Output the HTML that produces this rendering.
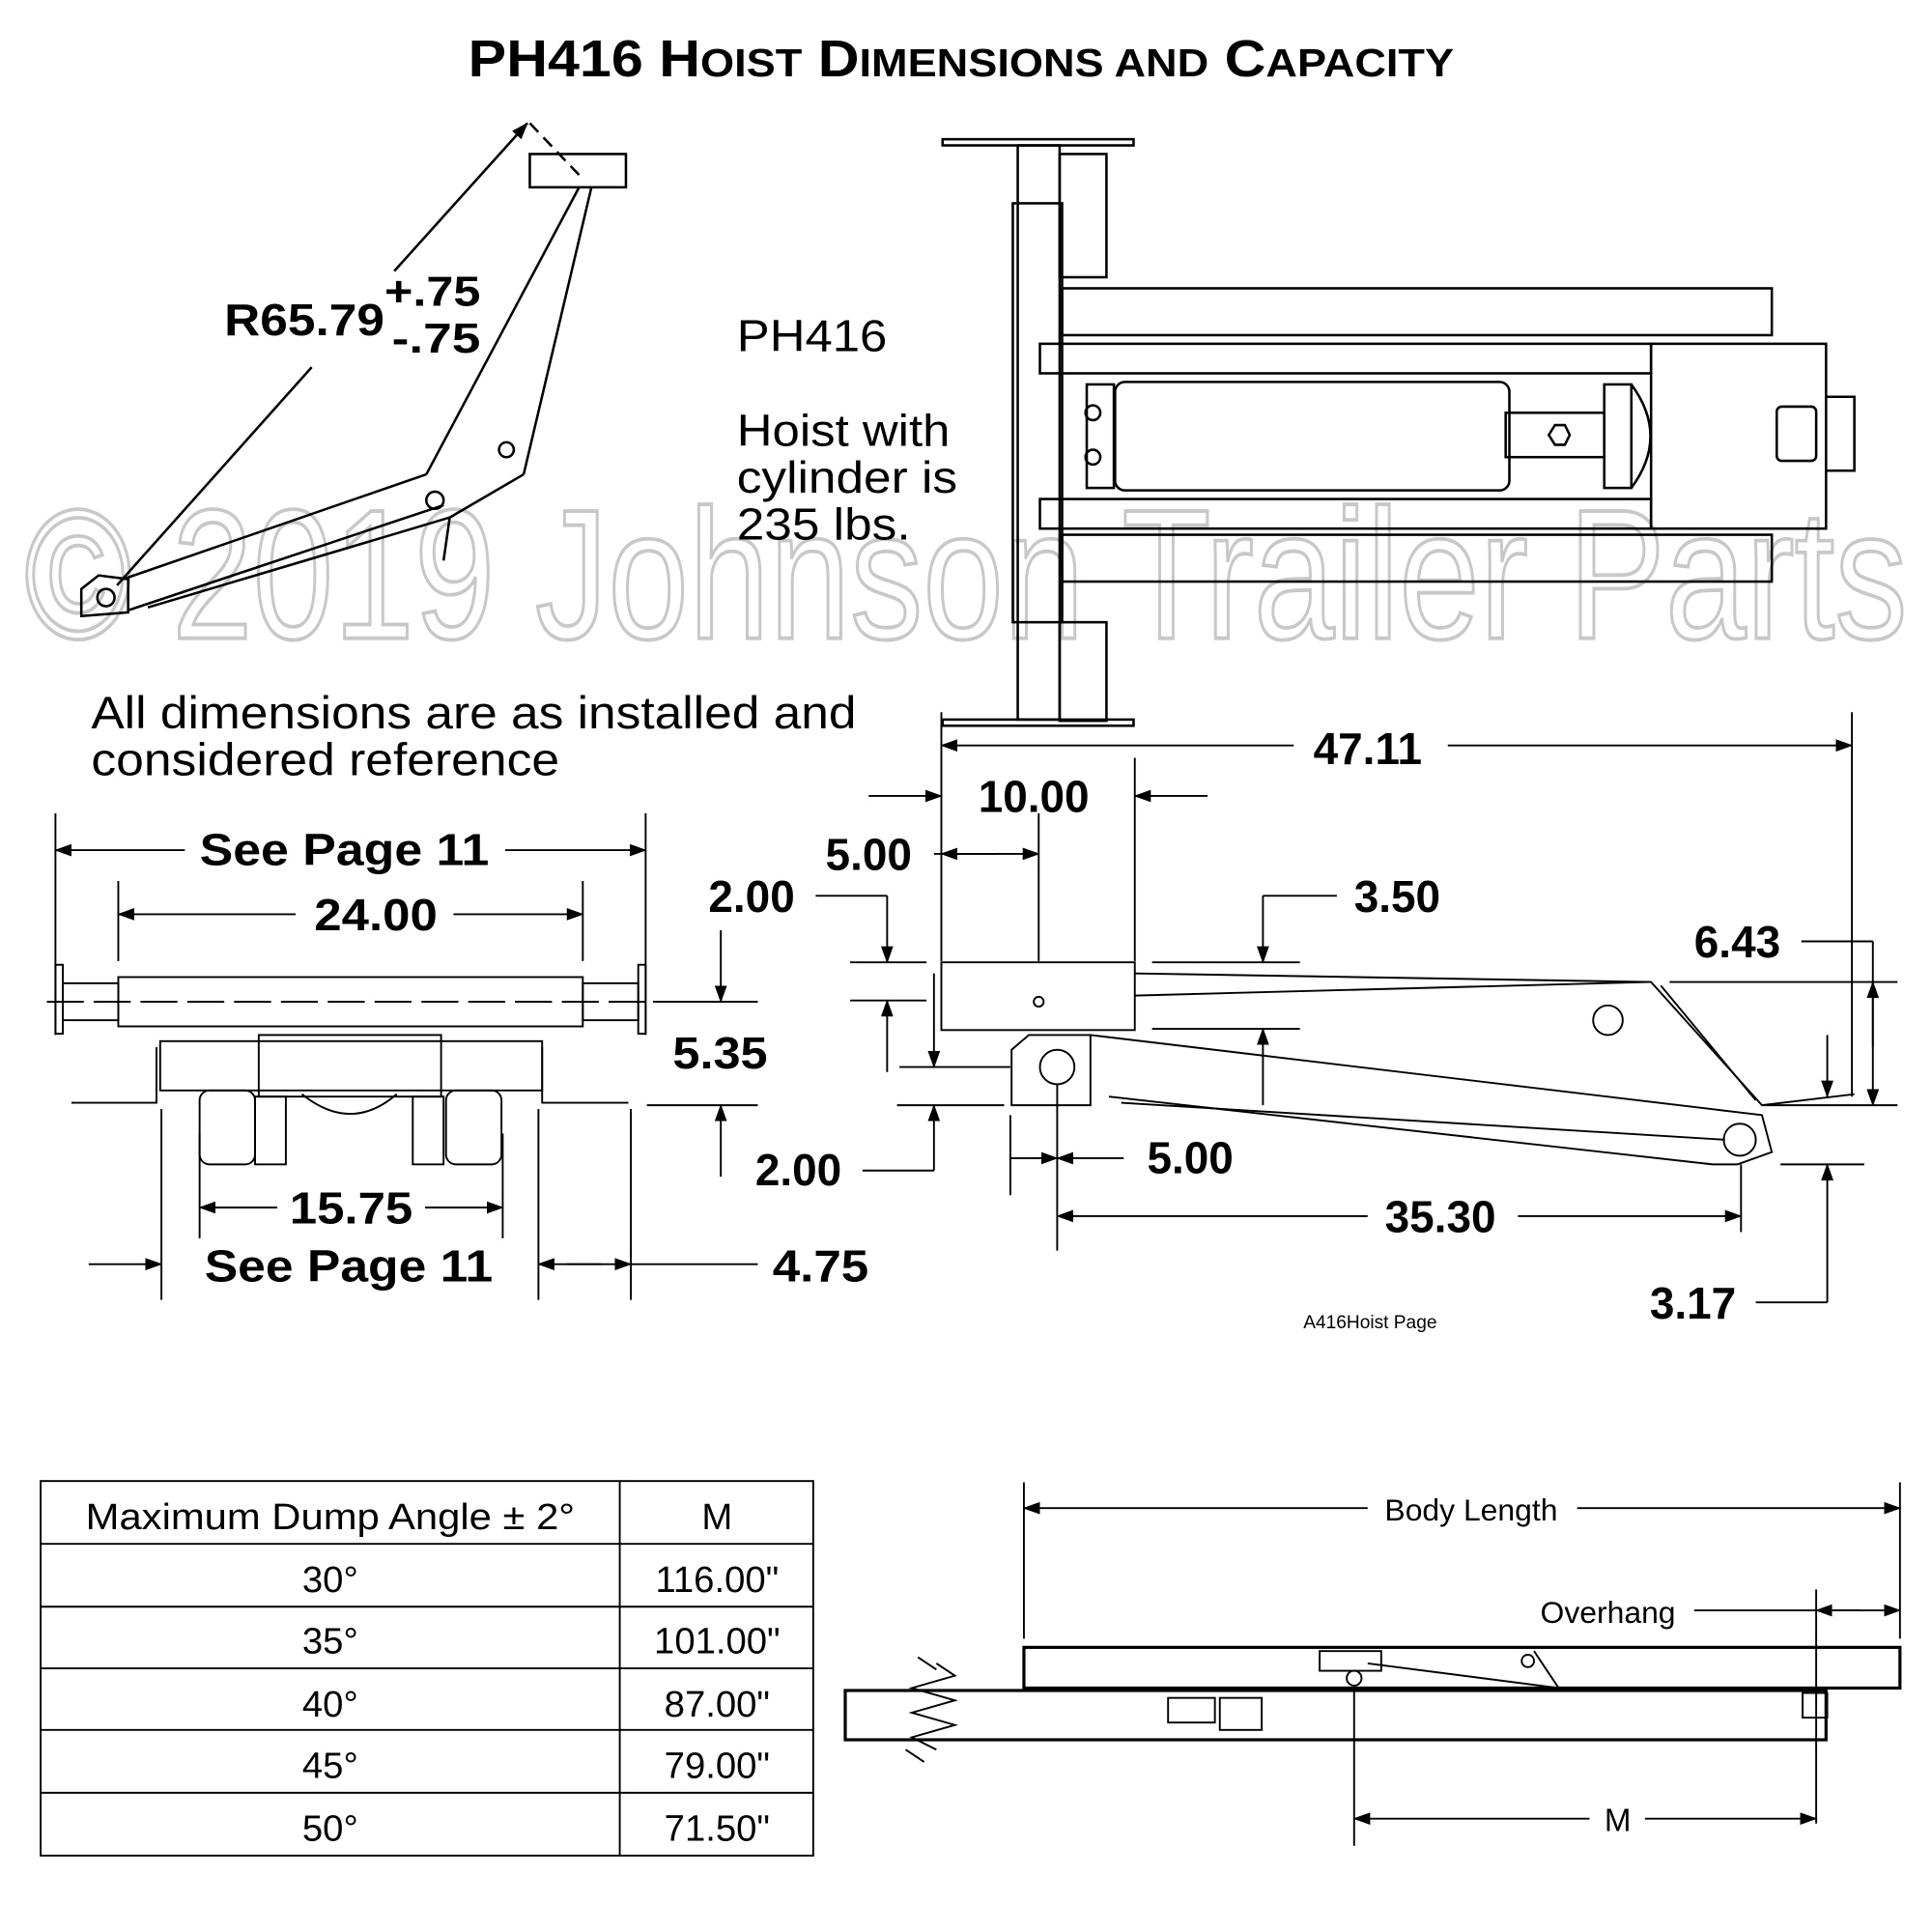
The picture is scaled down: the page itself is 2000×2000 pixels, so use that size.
<!DOCTYPE html>
<html><head><style>html,body{margin:0;padding:0;background:#fff}svg{display:block}</style></head>
<body>
<svg width="2000" height="2000" viewBox="0 0 1568 1568" xmlns="http://www.w3.org/2000/svg" font-family="Liberation Sans, DejaVu Sans, sans-serif">
<defs>
<marker id="a" markerWidth="14" markerHeight="10" refX="13" refY="5" orient="auto" markerUnits="userSpaceOnUse"><path d="M0,0 L14,5 L0,10 z" fill="#000"/></marker>
</defs>
<rect width="1568" height="1568" fill="#fff"/>
<text x="20" y="518" font-size="150" fill="none" stroke="#c8c8c8" stroke-width="3" textLength="1528" lengthAdjust="spacingAndGlyphs">© 2019 Johnson Trailer Parts</text>
<text x="380" y="62" font-weight="bold" font-size="42" textLength="800" lengthAdjust="spacingAndGlyphs">PH416 H<tspan font-size="32">OIST</tspan> D<tspan font-size="32">IMENSIONS AND</tspan> C<tspan font-size="32">APACITY</tspan></text>

<g stroke="#000" stroke-width="2" fill="none">
<rect x="430" y="125" width="78" height="27"/>
<line x1="480" y1="152" x2="425" y2="385"/>
<line x1="470" y1="152" x2="346" y2="385"/>
<polyline points="425,385 365,420 360,455"/>
<line x1="346" y1="385" x2="100" y2="470"/>
<line x1="360" y1="410" x2="105" y2="495"/>
<line x1="365" y1="420" x2="120" y2="493"/>
<polygon points="66,478 80,467 104,470 104,497 66,500"/>
<circle cx="86" cy="485" r="7"/>
<circle cx="353" cy="406" r="7"/>
<circle cx="411" cy="365" r="6"/>
<line x1="320" y1="220" x2="428" y2="100" marker-end="url(#a)"/>
<line x1="253" y1="298" x2="95" y2="475"/>
<path d="M430,100 L470,142" stroke-dasharray="10,6"/>
</g>
<text x="182" y="272" font-size="36" font-weight="bold" textLength="130" lengthAdjust="spacingAndGlyphs">R65.79</text>
<text x="312" y="248" font-size="34" font-weight="bold" textLength="78" lengthAdjust="spacingAndGlyphs">+.75</text>
<text x="318" y="286" font-size="34" font-weight="bold" textLength="72" lengthAdjust="spacingAndGlyphs">-.75</text>

<text x="598" y="285" font-size="36" textLength="122" lengthAdjust="spacingAndGlyphs">PH416</text>
<text x="598" y="362" font-size="36" textLength="173" lengthAdjust="spacingAndGlyphs">Hoist with</text>
<text x="598" y="400" font-size="36" textLength="179" lengthAdjust="spacingAndGlyphs">cylinder is</text>
<text x="598" y="438" font-size="36" textLength="141" lengthAdjust="spacingAndGlyphs">235 lbs.</text>

<g stroke="#000" stroke-width="2" fill="none">
<rect x="765" y="113" width="155" height="5"/>
<rect x="765" y="584" width="155" height="5"/>
<rect x="826" y="118" width="34" height="466"/>
<rect x="822" y="165" width="40" height="340"/>
<rect x="860" y="125" width="38" height="100"/>
<rect x="860" y="505" width="38" height="80"/>
<rect x="862" y="234" width="576" height="38"/>
<rect x="844" y="279" width="496" height="24"/>
<rect x="844" y="405" width="496" height="24"/>
<rect x="862" y="434" width="576" height="38"/>
<rect x="1340" y="279" width="142" height="150"/>
<path d="M1482,322 H1505 V382 H1482"/>
<rect x="1442" y="330" width="32" height="44" rx="4"/>
<rect x="905" y="310" width="320" height="88" rx="8"/>
<rect x="1222" y="335" width="80" height="36"/>
<rect x="1302" y="312" width="22" height="84"/>
<rect x="882" y="312" width="22" height="84"/>
<polygon points="1257,353 1262,345 1270,345 1274,353 1270,361 1262,361"/>
<circle cx="887" cy="335" r="6"/><circle cx="887" cy="371" r="6"/>
<path d="M1324,312 Q1355,354 1324,396"/>
</g>

<text x="74" y="591" font-size="37" textLength="621" lengthAdjust="spacingAndGlyphs">All dimensions are as installed and</text>
<text x="74" y="629" font-size="37" textLength="380" lengthAdjust="spacingAndGlyphs">considered reference</text>

<g stroke="#000" stroke-width="1.5" fill="none">
<line x1="45" y1="660" x2="45" y2="840"/><line x1="524" y1="660" x2="524" y2="840"/>
<line x1="150" y1="690" x2="45" y2="690" marker-end="url(#a)"/><line x1="410" y1="690" x2="524" y2="690" marker-end="url(#a)"/>
<line x1="96" y1="715" x2="96" y2="780"/><line x1="473" y1="715" x2="473" y2="780"/>
<line x1="240" y1="742" x2="96" y2="742" marker-end="url(#a)"/><line x1="368" y1="742" x2="473" y2="742" marker-end="url(#a)"/>
<line x1="530" y1="813" x2="615" y2="813"/><line x1="525" y1="897" x2="615" y2="897"/>
<line x1="585" y1="755" x2="585" y2="813" marker-end="url(#a)"/><line x1="585" y1="955" x2="585" y2="897" marker-end="url(#a)"/>
<line x1="162" y1="920" x2="162" y2="1005"/><line x1="408" y1="920" x2="408" y2="1005"/>
<line x1="225" y1="980" x2="162" y2="980" marker-end="url(#a)"/><line x1="345" y1="980" x2="408" y2="980" marker-end="url(#a)"/>
<line x1="131" y1="900" x2="131" y2="1055"/><line x1="437" y1="900" x2="437" y2="1055"/><line x1="512" y1="900" x2="512" y2="1055"/>
<line x1="72" y1="1026" x2="131" y2="1026" marker-end="url(#a)"/><line x1="488" y1="1026" x2="437" y2="1026" marker-end="url(#a)"/>
<line x1="460" y1="1026" x2="512" y2="1026" marker-end="url(#a)"/><line x1="512" y1="1026" x2="615" y2="1026"/>
<rect x="96" y="793" width="377" height="40"/>
<rect x="45" y="783" width="6" height="56"/><rect x="518" y="783" width="6" height="56"/>
<line x1="38" y1="813" x2="530" y2="813" stroke-dasharray="30,8"/>
<rect x="51" y="798" width="45" height="30"/><rect x="473" y="798" width="45" height="30"/>
<rect x="130" y="845" width="310" height="40"/>
<rect x="210" y="840" width="148" height="50"/>
<path d="M58,895 H127 V850"/><path d="M510,895 H440 V850"/>
<rect x="162" y="885" width="45" height="60" rx="8"/><rect x="362" y="885" width="45" height="60" rx="8"/>
<rect x="207" y="890" width="25" height="55"/><rect x="335" y="890" width="25" height="55"/>
<path d="M245,888 Q285,920 322,888"/>
</g>
<g font-size="36" font-weight="bold">
<text x="162" y="702" textLength="235" lengthAdjust="spacingAndGlyphs">See Page 11</text>
<text x="255" y="755" textLength="100" lengthAdjust="spacingAndGlyphs">24.00</text>
<text x="546" y="867" textLength="77" lengthAdjust="spacingAndGlyphs">5.35</text>
<text x="235" y="993" textLength="100" lengthAdjust="spacingAndGlyphs">15.75</text>
<text x="166" y="1040" textLength="234" lengthAdjust="spacingAndGlyphs">See Page 11</text>
<text x="627" y="1040" textLength="78" lengthAdjust="spacingAndGlyphs">4.75</text>
</g>

<g stroke="#000" stroke-width="1.5" fill="none">
<line x1="764" y1="578" x2="764" y2="780"/><line x1="1503" y1="578" x2="1503" y2="890"/>
<line x1="1050" y1="605" x2="764" y2="605" marker-end="url(#a)"/><line x1="1175" y1="605" x2="1503" y2="605" marker-end="url(#a)"/>
<line x1="921" y1="615" x2="921" y2="780"/>
<line x1="705" y1="646" x2="764" y2="646" marker-end="url(#a)"/><line x1="980" y1="646" x2="921" y2="646" marker-end="url(#a)"/>
<line x1="843" y1="660" x2="843" y2="780"/>
<line x1="758" y1="693" x2="843" y2="693" marker-end="url(#a)"/><line x1="810" y1="693" x2="764" y2="693" marker-end="url(#a)"/>
<line x1="690" y1="781" x2="752" y2="781"/><line x1="690" y1="812" x2="752" y2="812"/>
<line x1="662" y1="727" x2="720" y2="727"/><line x1="720" y1="727" x2="720" y2="781" marker-end="url(#a)"/>
<line x1="720" y1="870" x2="720" y2="812" marker-end="url(#a)"/>
<line x1="730" y1="866" x2="820" y2="866"/><line x1="728" y1="897" x2="815" y2="897"/>
<line x1="758" y1="790" x2="758" y2="866" marker-end="url(#a)"/>
<line x1="758" y1="950" x2="758" y2="897" marker-end="url(#a)"/><line x1="700" y1="950" x2="758" y2="950"/>
<line x1="935" y1="781" x2="1055" y2="781"/><line x1="935" y1="835" x2="1055" y2="835"/>
<line x1="1085" y1="727" x2="1025" y2="727"/><line x1="1025" y1="727" x2="1025" y2="781" marker-end="url(#a)"/>
<line x1="1025" y1="897" x2="1025" y2="835" marker-end="url(#a)"/>
<line x1="820" y1="905" x2="820" y2="970"/><line x1="858" y1="880" x2="858" y2="1015"/>
<line x1="820" y1="940" x2="858" y2="940" marker-end="url(#a)"/><line x1="912" y1="940" x2="858" y2="940" marker-end="url(#a)"/>
<line x1="1110" y1="987" x2="858" y2="987" marker-end="url(#a)"/><line x1="1232" y1="987" x2="1413" y2="987" marker-end="url(#a)"/>
<line x1="1413" y1="945" x2="1413" y2="1000"/>
<line x1="1355" y1="797" x2="1540" y2="797"/><line x1="1430" y1="897" x2="1540" y2="897"/>
<line x1="1462" y1="764" x2="1520" y2="764"/><line x1="1520" y1="764" x2="1520" y2="897" marker-end="url(#a)"/>
<line x1="1520" y1="850" x2="1520" y2="797" marker-end="url(#a)"/>
<line x1="1483" y1="840" x2="1483" y2="890" marker-end="url(#a)"/>
<line x1="1445" y1="945" x2="1513" y2="945"/>
<line x1="1483" y1="1057" x2="1483" y2="945" marker-end="url(#a)"/><line x1="1425" y1="1057" x2="1483" y2="1057"/>
<rect x="764" y="781" width="157" height="55"/>
<circle cx="843" cy="813" r="4"/>
<path d="M821,897 V852 L835,840 H885 V897 Z"/>
<circle cx="858" cy="866" r="14"/>
<path d="M921,790 L1340,797 L1430,897 L1505,888"/>
<path d="M921,808 L1338,797"/>
<path d="M885,840 L1430,905 L1438,935 L1410,945 L1390,945 L900,890"/>
<line x1="910" y1="895" x2="1400" y2="925"/>
<line x1="1348" y1="800" x2="1425" y2="893"/>
<circle cx="1305" cy="828" r="12"/>
<circle cx="1412" cy="925" r="13"/>
</g>
<g font-size="36" font-weight="bold" text-anchor="middle">
<text x="1110" y="620">47.11</text>
<text x="839" y="659">10.00</text>
<text x="705" y="706">5.00</text>
<text x="610" y="740">2.00</text>
<text x="1134" y="740">3.50</text>
<text x="1410" y="777">6.43</text>
<text x="648" y="962">2.00</text>
<text x="966" y="952">5.00</text>
<text x="1169" y="1000">35.30</text>
<text x="1374" y="1070">3.17</text>
</g>
<text x="1112" y="1078" text-anchor="middle" font-size="15">A416Hoist Page</text>

<g stroke="#000" stroke-width="1.5" fill="none">
<rect x="33" y="1202" width="627" height="304"/>
<line x1="503" y1="1202" x2="503" y2="1506"/>
<line x1="33" y1="1253" x2="660" y2="1253"/><line x1="33" y1="1304" x2="660" y2="1304"/>
<line x1="33" y1="1354" x2="660" y2="1354"/><line x1="33" y1="1404" x2="660" y2="1404"/>
<line x1="33" y1="1455" x2="660" y2="1455"/>
</g>
<g font-size="30" text-anchor="middle">
<text x="268" y="1241" textLength="397" lengthAdjust="spacingAndGlyphs">Maximum Dump Angle ± 2°</text><text x="582" y="1241">M</text>
<text x="268" y="1292">30°</text><text x="582" y="1292">116.00"</text>
<text x="268" y="1342">35°</text><text x="582" y="1342">101.00"</text>
<text x="268" y="1393">40°</text><text x="582" y="1393">87.00"</text>
<text x="268" y="1443">45°</text><text x="582" y="1443">79.00"</text>
<text x="268" y="1494">50°</text><text x="582" y="1494">71.50"</text>
</g>

<g stroke="#000" stroke-width="1.5" fill="none">
<line x1="831" y1="1203" x2="831" y2="1330"/><line x1="1542" y1="1203" x2="1542" y2="1330"/>
<line x1="1110" y1="1224" x2="831" y2="1224" marker-end="url(#a)"/><line x1="1280" y1="1224" x2="1542" y2="1224" marker-end="url(#a)"/>
<line x1="1474" y1="1290" x2="1474" y2="1480"/>
<line x1="1375" y1="1307" x2="1474" y2="1307"/><line x1="1480" y1="1307" x2="1542" y2="1307" marker-end="url(#a)"/>
<line x1="1510" y1="1307" x2="1474" y2="1307" marker-end="url(#a)"/>
<line x1="1099" y1="1370" x2="1099" y2="1498"/>
<line x1="1290" y1="1476" x2="1099" y2="1476" marker-end="url(#a)"/><line x1="1335" y1="1476" x2="1474" y2="1476" marker-end="url(#a)"/>
<rect x="831" y="1337" width="711" height="33" stroke-width="2.5"/>
<rect x="686" y="1372" width="796" height="40" stroke-width="2.5"/>
<path d="M760,1350 L775,1360 L740,1370 L775,1380 L740,1390 L775,1400 L740,1410 L760,1420"/>
<path d="M745,1345 L760,1355 M735,1420 L750,1430"/>
<rect x="1071" y="1340" width="50" height="16"/>
<circle cx="1099" cy="1362" r="6"/>
<path d="M1110,1350 L1265,1370 L1245,1340"/>
<circle cx="1240" cy="1348" r="5"/>
<rect x="948" y="1378" width="38" height="20"/><rect x="990" y="1378" width="34" height="26"/>
<rect x="1463" y="1374" width="20" height="20"/>
</g>
<text x="1194" y="1234" text-anchor="middle" font-size="25">Body Length</text>
<text x="1305" y="1317" text-anchor="middle" font-size="25">Overhang</text>
<text x="1313" y="1486" text-anchor="middle" font-size="26">M</text>
</svg>
</body></html>
